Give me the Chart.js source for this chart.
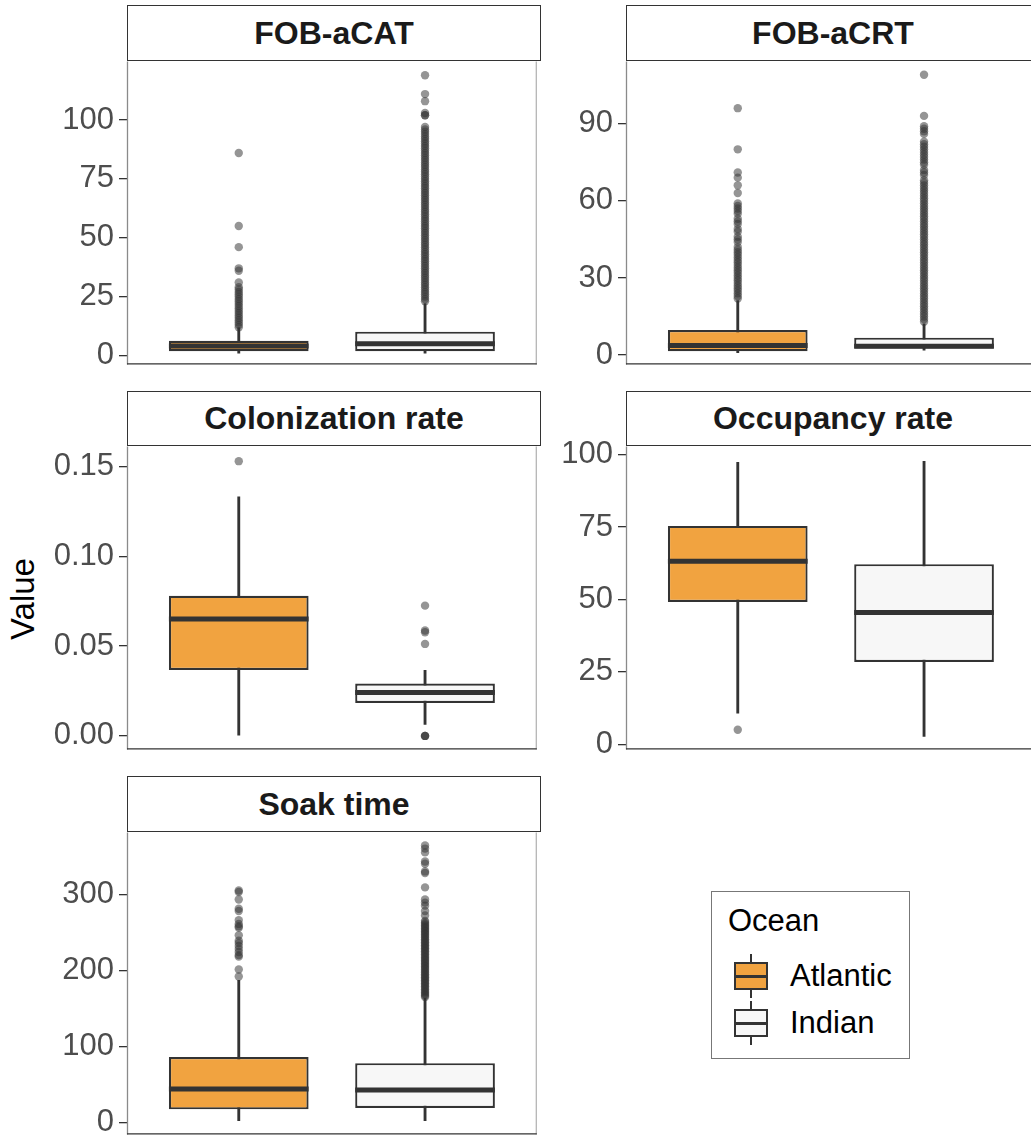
<!DOCTYPE html>
<html><head><meta charset="utf-8">
<script src="https://cdn.jsdelivr.net/npm/chart.js@4.4.1/dist/chart.umd.min.js"></script>
<style>
html,body{margin:0;padding:0;background:#fff;}
body{width:1031px;height:1135px;overflow:hidden;position:relative;font-family:"Liberation Sans",Arial,sans-serif;}
canvas{position:absolute;}
.strip{position:absolute;box-sizing:border-box;border:1.6px solid #333;background:#fff;display:flex;align-items:center;justify-content:center;font-weight:bold;font-size:32px;color:#1a1a1a;}
.ytitle{position:absolute;left:23px;top:599px;transform:translate(-50%,-50%) rotate(-90deg);font-size:33px;color:#000;white-space:nowrap;}
.legend{position:absolute;left:711px;top:891px;width:199px;height:168px;box-sizing:border-box;border:1.4px solid #777;background:#fff;}
.legend .ttl{position:absolute;left:16px;top:11px;font-size:31px;color:#000;}
.key{position:absolute;left:22px;width:34px;height:44px;}
.key .wh{position:absolute;left:16px;width:2px;height:44px;top:0;background:#333;}
.key .bx{position:absolute;left:0;top:8px;width:34px;height:28px;box-sizing:border-box;border:2px solid #333;}
.key .md{position:absolute;left:0;top:20.5px;width:34px;height:3px;background:#333;}
.lab{position:absolute;left:78px;font-size:31px;color:#000;}
</style></head><body>
<div class="ytitle">Value</div>
<script>
// ---------- data ----------
const oceans = ['Atlantic', 'Indian'];
const panelTitles = ['FOB-aCAT', 'FOB-aCRT', 'Colonization rate', 'Occupancy rate', 'Soak time'];

// box statistics: [lower whisker, Q1, median, Q3, upper whisker]
const catAtlanticBox = [1, 1.8, 4, 6.2, 11.8];
const catIndianBox   = [1, 1.8, 5, 10.1, 22];
const crtAtlanticBox = [1, 1.5, 3.7, 9.8, 21.2];
const crtIndianBox   = [1.9, 2.6, 3.5, 6.8, 12.2];
const colAtlanticBox = [0, 0.0367, 0.065, 0.078, 0.133];
const colIndianBox   = [0.0064, 0.0183, 0.0242, 0.0292, 0.0365];
const occAtlanticBox = [10.7, 49.1, 63.2, 75.4, 97.4];
const occIndianBox   = [2.7, 28.4, 45.5, 62.2, 97.7];
const soakAtlanticBox = [2.5, 17.3, 44.2, 86.2, 187];
const soakIndianBox   = [2.5, 19.1, 42.9, 78, 163.4];

// outliers
const catAtlanticOut = [12,13,14,15,16,17,18,19,20,21,22,23,24,25,26,27,28,29,31,36,37,46,55,86];
const catIndianOut = [23,24,25,26,27,28,29,30,31,32,33,34,35,36,37,38,39,40,41,42,43,44,45,46,47,48,49,50,51,52,53,54,55,56,57,58,59,60,61,62,63,64,65,66,67,68,69,70,71,72,73,74,75,76,77,78,79,80,81,82,83,84,85,86,87,88,89,90,91,92,93,94,95,96,97,102,102,103,108,111,119];
const crtAtlanticOut = [22,23,24,25,26,27,28,29,30,31,32,33,34,35,36,37,38,39,40,41,42,44,45,46,48,49,51,52,53,55,56,57,58,59,63,66,69,71,80,96];
const crtIndianOut = [13,14,15,16,17,18,19,20,21,22,23,24,25,26,27,28,29,30,31,32,33,34,35,36,37,38,39,40,41,42,43,44,45,46,47,48,49,50,51,52,53,54,55,56,57,58,59,60,61,62,63,64,65,66,67,68,70,71,72,74,75,76,77,78,79,80,81,82,83,86,87,88,89,93,109];
const colAtlanticOut = [0.1529];
const colIndianOut = [0.0725, 0.0587, 0.0577, 0.0512, 0, 0, 0];
const occAtlanticOut = [5.0];
const occIndianOut = [];
const soakAtlanticOut = [192,201,218,220,224,228,232,236,239,246,256,258,261,266,278,281,293,303,305];
const soakIndianOut = [165,167,169,171,173,175,177,179,181,183,185,187,189,191,193,195,197,199,201,203,205,207,209,211,213,215,217,219,221,223,225,227,229,231,233,235,237,239,241,243,245,247,249,251,253,255,257,259,261,263,265,272,278,285,289,293,309,328,330,340,343,355,360,364];

// tick values and labels
const catTicks = [0, 25, 50, 75, 100];
const crtTicks = [0, 30, 60, 90];
const colTicks = [0, 0.05, 0.10, 0.15];
const colTickLabels = ['0.00', '0.05', '0.10', '0.15'];
const occTicks = [0, 25, 50, 75, 100];
const soakTicks = [0, 100, 200, 300];

// ---------- layout / style ----------
const FONT = "'Liberation Sans', Arial, sans-serif";
const fills = ['#f1a340', '#f7f7f7'];
const dark = '#333333';
const AXW = 127, PADV = 22;
const BOXW = 0.75;

const panels = [
  {title: panelTitles[0], boxes: [catAtlanticBox, catIndianBox], outs: [catAtlanticOut, catIndianOut], ticks: catTicks, labels: catTicks.map(String), min: -3.8, max: 124.8, l: 127, r: 541, t: 60, b: 366, st: 5},
  {title: panelTitles[1], boxes: [crtAtlanticBox, crtIndianBox], outs: [crtAtlanticOut, crtIndianOut], ticks: crtTicks, labels: crtTicks.map(String), min: -3.6, max: 114.1, l: 626, r: 1040, t: 60, b: 366, st: 5},
  {title: panelTitles[2], boxes: [colAtlanticBox, colIndianBox], outs: [colAtlanticOut, colIndianOut], ticks: colTicks, labels: colTickLabels, min: -0.0075, max: 0.161, l: 127, r: 541, t: 445, b: 751, st: 391},
  {title: panelTitles[3], boxes: [occAtlanticBox, occIndianBox], outs: [occAtlanticOut, occIndianOut], ticks: occTicks, labels: occTicks.map(String), min: -1.8, max: 102.8, l: 626, r: 1040, t: 445, b: 751, st: 391},
  {title: panelTitles[4], boxes: [soakAtlanticBox, soakIndianBox], outs: [soakAtlanticOut, soakIndianOut], ticks: soakTicks, labels: soakTicks.map(String), min: -15.6, max: 381, l: 127, r: 541, t: 831, b: 1136, st: 776}
];

const borderPlugin = {
  id: 'panelBorder',
  beforeDatasetsDraw(chart) {
    const a = chart.chartArea, c = chart.ctx;
    c.save();
    c.lineWidth = 1.3;
    c.strokeStyle = '#8a8a8a';
    c.beginPath(); c.moveTo(a.left + 0.5, a.top); c.lineTo(a.left + 0.5, a.bottom); c.stroke();
    c.strokeStyle = '#b5b5b5';
    c.beginPath(); c.moveTo(a.right - 0.5, a.top); c.lineTo(a.right - 0.5, a.bottom); c.stroke();
    c.strokeStyle = '#333';
    c.beginPath(); c.moveTo(a.left, a.bottom - 0.5); c.lineTo(a.right, a.bottom - 0.5); c.stroke();
    c.restore();
  }
};

panels.forEach((p) => {
  const strip = document.createElement('div');
  strip.className = 'strip';
  strip.style.left = p.l + 'px';
  strip.style.top = p.st + 'px';
  strip.style.width = (p.r - p.l) + 'px';
  strip.style.height = (p.t - p.st + 1) + 'px';
  strip.textContent = p.title;
  document.body.appendChild(strip);

  const cv = document.createElement('canvas');
  const w = AXW + (p.r - p.l), h = (p.b - p.t) + 2 * PADV;
  cv.width = w; cv.height = h;
  cv.style.left = (p.l - AXW) + 'px';
  cv.style.top = (p.t - PADV) + 'px';
  cv.style.width = w + 'px'; cv.style.height = h + 'px';
  document.body.appendChild(cv);

  const xs = [1, 2];
  const whisker = {
    type: 'bar', order: 4, grouped: false,
    data: p.boxes.map((b, i) => ({x: xs[i], y: [b[0], b[4]]})),
    backgroundColor: dark, borderWidth: 0,
    maxBarThickness: 2.2, categoryPercentage: 1, barPercentage: 1
  };
  const box = {
    type: 'bar', order: 3, grouped: false,
    data: p.boxes.map((b, i) => ({x: xs[i], y: [b[1], b[3]]})),
    backgroundColor: fills, borderColor: dark, borderWidth: 2.2, borderSkipped: false,
    categoryPercentage: BOXW, barPercentage: 1
  };
  const medData = [];
  p.boxes.forEach((b, i) => {
    medData.push({x: xs[i] - BOXW / 2, y: b[2]});
    medData.push({x: xs[i] + BOXW / 2, y: b[2]});
    medData.push({x: xs[i] + 0.5, y: null});
  });
  const median = {
    type: 'line', order: 2, data: medData, borderColor: dark, borderWidth: 5,
    pointRadius: 0, spanGaps: false, fill: false, borderCapStyle: 'butt'
  };
  const outs = p.outs.map((arr, i) => ({
    type: 'scatter', order: 1,
    data: arr.map(v => ({x: xs[i], y: v})),
    pointRadius: 4.2, pointBackgroundColor: 'rgba(51,51,51,0.52)', pointBorderWidth: 0, showLine: false
  }));

  new Chart(cv, {
    type: 'bar',
    data: {datasets: [whisker, box, median, ...outs]},
    options: {
      responsive: false, animation: false, events: [],
      layout: {padding: {top: PADV, bottom: PADV, left: 0, right: 0}},
      plugins: {legend: {display: false}, tooltip: {enabled: false}},
      scales: {
        x: {
          type: 'linear', min: 0.4, max: 2.6, offset: false, display: false,
          afterBuildTicks: (s) => { s.ticks = xs.map(v => ({value: v})); }
        },
        y: {
          type: 'linear', min: p.min, max: p.max,
          afterBuildTicks: (s) => { s.ticks = p.ticks.map(v => ({value: v})); },
          afterFit: (s) => { s.width = AXW; },
          border: {display: false},
          grid: {display: true, drawOnChartArea: false, drawTicks: true, tickLength: 8, color: dark, lineWidth: 1.3},
          ticks: {
            padding: 5, color: '#4d4d4d', font: {family: FONT, size: 31},
            callback: (v, i) => p.labels[i]
          }
        }
      }
    },
    plugins: [borderPlugin]
  });
});

// legend
const lg = document.createElement('div');
lg.className = 'legend';
let html = '<div class="ttl">Ocean</div>';
const keyTops = [62, 109];
oceans.forEach((o, i) => {
  html += '<div class="key" style="top:' + keyTops[i] + 'px"><div class="wh"></div><div class="bx" style="background:' + fills[i] + '"></div><div class="md"></div></div>';
  html += '<div class="lab" style="top:' + (keyTops[i] + 4) + 'px">' + o + '</div>';
});
lg.innerHTML = html;
document.body.appendChild(lg);
</script>
</body></html>
